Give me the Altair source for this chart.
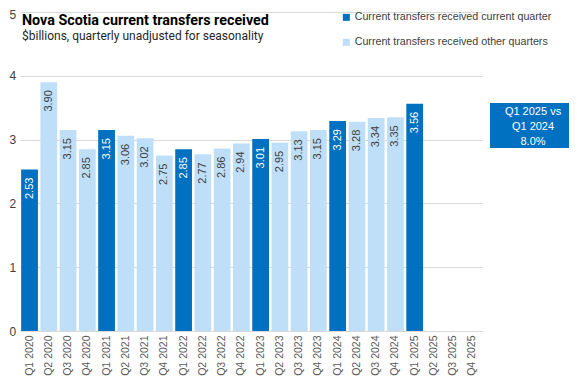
import altair as alt
import pandas as pd

# ---- data ----
all_quarters = [
    "Q1 2020", "Q2 2020", "Q3 2020", "Q4 2020",
    "Q1 2021", "Q2 2021", "Q3 2021", "Q4 2021",
    "Q1 2022", "Q2 2022", "Q3 2022", "Q4 2022",
    "Q1 2023", "Q2 2023", "Q3 2023", "Q4 2023",
    "Q1 2024", "Q2 2024", "Q3 2024", "Q4 2024",
    "Q1 2025", "Q2 2025", "Q3 2025", "Q4 2025",
]
values = [
    2.53, 3.90, 3.15, 2.85,
    3.15, 3.06, 3.02, 2.75,
    2.85, 2.77, 2.86, 2.94,
    3.01, 2.95, 3.13, 3.15,
    3.29, 3.28, 3.34, 3.35,
    3.56,
]
series_names = [
    "Current transfers received current quarter",
    "Current transfers received other quarters",
]
series_colors = ["#0070C0", "#BFDFF8"]

title_text = "Nova Scotia current transfers received"
subtitle_text = "$billions, quarterly unadjusted for seasonality"
box_lines = ["Q1 2025 vs", "Q1 2024", "8.0%"]

# ---- table ----
quarters = all_quarters[: len(values)]
series = [series_names[0] if q.startswith("Q1") else series_names[1] for q in quarters]
df = pd.DataFrame({"quarter": quarters, "value": values, "series": series})

FONT = "Liberation Sans"
TFONT = "Roboto"

x_enc = alt.X(
    "quarter:N",
    sort=all_quarters,
    scale=alt.Scale(domain=all_quarters, paddingInner=0.13, paddingOuter=0.06),
    axis=alt.Axis(
        title=None, labelAngle=270, labelAlign="right", labelBaseline="middle",
        labelPadding=4, ticks=False, domainColor="#D9D9D9", labelFont=FONT,
        labelFontSize=10.5, labelColor="#595959", grid=False,
    ),
)
y_enc = alt.Y(
    "value:Q",
    scale=alt.Scale(domain=[0, 5], nice=False),
    axis=alt.Axis(
        title=None, values=[0, 1, 2, 3, 4, 5], format="d", grid=True,
        gridColor="#D9D9D9", domain=False, ticks=False, labelAlign="left",
        labelPadding=11, labelFont=FONT, labelFontSize=12, labelColor="#404040",
        labelOffset=alt.condition("datum.value == 5", alt.value(2), alt.value(0)),
    ),
)

bars = alt.Chart(df).mark_bar().encode(
    x=x_enc,
    y=y_enc,
    color=alt.Color(
        "series:N",
        scale=alt.Scale(domain=series_names, range=series_colors),
        legend=alt.Legend(
            orient="none", legendX=321, legendY=0, title=None,
            symbolType="square", symbolSize=49, symbolStrokeWidth=0,
            labelFont=FONT, labelFontSize=10.7, labelColor="#404040",
            rowPadding=13, padding=0, labelOffset=3, labelLimit=400,
        ),
    ),
)

labels = alt.Chart(df).mark_text(
    angle=270, align="right", baseline="middle", dx=-8, fontSize=11, font=FONT
).encode(
    x=alt.X("quarter:N", sort=all_quarters),
    y="value:Q",
    text=alt.Text("value:Q", format=".2f"),
    color=alt.condition(
        alt.datum.series == series_names[0], alt.value("white"), alt.value("#404040")
    ),
)

one = pd.DataFrame({"k": [0]})
title = alt.Chart(one).mark_text(
    align="left", baseline="alphabetic", font=TFONT, fontSize=14.3, fontWeight="bold",
    color="#000000",
).encode(x=alt.value(2), y=alt.value(13), text=alt.value(title_text))
subtitle = alt.Chart(one).mark_text(
    align="left", baseline="alphabetic", font=TFONT, fontSize=12, color="#262626",
).encode(x=alt.value(2), y=alt.value(28), text=alt.value(subtitle_text))

box = alt.Chart(one).mark_rect(color="#0070C0").encode(
    x=alt.value(470), x2=alt.value(560), y=alt.value(91), y2=alt.value(136)
)
box_df = pd.DataFrame({"line": box_lines, "ypos": [100, 115, 130]})
box_text = alt.Chart(box_df).mark_text(
    align="center", baseline="middle", font=FONT, fontSize=11, color="white"
).encode(x=alt.value(513), y=alt.Y("ypos:Q", scale=None), text="line:N")

chart = alt.layer(bars, labels, title, subtitle, box, box_text).properties(
    width=462, height=319,
    autosize=alt.AutoSizeParams(type="none"),
    padding={"left": 12, "top": 4, "right": 87, "bottom": 46},
).configure(background="white").configure_view(stroke=None)

chart.save("out.html", embed_options={"renderer": "svg", "actions": False})
